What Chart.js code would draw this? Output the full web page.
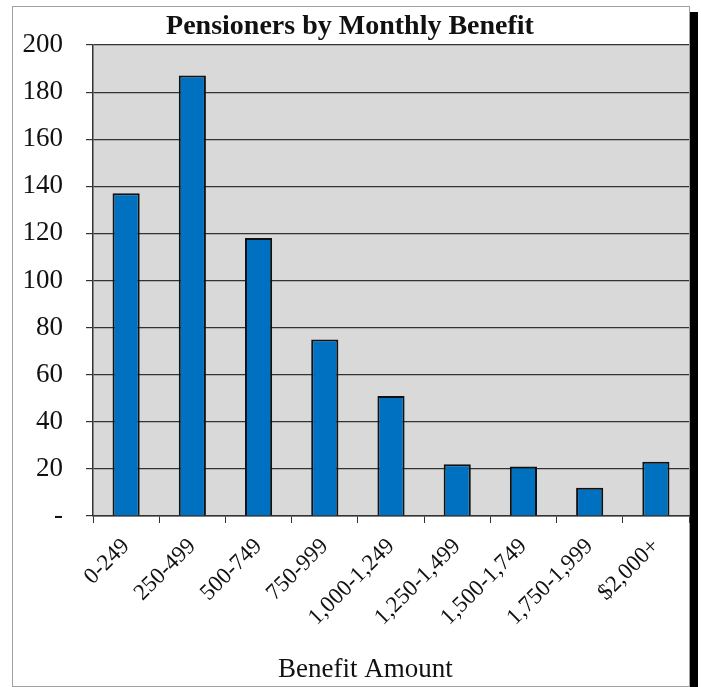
<!DOCTYPE html>
<html>
<head>
<meta charset="utf-8">
<script src="https://cdn.jsdelivr.net/npm/chart.js@4/dist/chart.umd.min.js"></script>
<style>
  html, body { margin: 0; padding: 0; background: #fff; }
  #wrap { position: relative; width: 701px; height: 687px; overflow: hidden; }
  #frame {
    position: absolute; left: 12px; top: 6px; width: 676px; height: 679px;
    border: 1px solid #a0a0a0; box-shadow: 8px 6px 0 #000; background: #fff;
  }
  #chart { position: absolute; left: 0; top: 0; }
</style>
</head>
<body>
<div id="wrap">
  <div id="frame"></div>
  <canvas id="chart" width="701" height="687"></canvas>
</div>
<script>
const categories = ['0-249', '250-499', '500-749', '750-999', '1,000-1,249',
  '1,250-1,499', '1,500-1,749', '1,750-1,999', '$2,000+'];
const pensioners = [137, 187, 118, 75, 51, 22, 21, 12, 23];
const yTicks = [0, 20, 40, 60, 80, 100, 120, 140, 160, 180, 200];
const xTitle = 'Benefit Amount';

const serif = "'Liberation Serif', 'Times New Roman', serif";

// gray plot background
const plotBg = {
  id: 'plotBg',
  beforeDraw(chart) {
    const a = chart.chartArea, ctx = chart.ctx;
    ctx.save();
    ctx.fillStyle = '#d9d9d9';
    ctx.fillRect(a.left, a.top, a.right - a.left, a.bottom - a.top);
    ctx.restore();
  }
};

// x axis title sits a bit left of the plot centre in the original
const axisTitle = {
  id: 'axisTitle',
  afterDraw(chart) {
    const a = chart.chartArea, ctx = chart.ctx;
    ctx.save();
    ctx.fillStyle = '#111';
    ctx.font = '27px ' + serif;
    ctx.textAlign = 'center';
    ctx.textBaseline = 'alphabetic';
    ctx.fillText(xTitle, a.left + (a.right - a.left) * 0.457, chart.height - 10);
    ctx.restore();
  }
};

const ctx = document.getElementById('chart').getContext('2d');
const chart = new Chart(ctx, {
  type: 'bar',
  data: {
    labels: categories,
    datasets: [{
      label: 'Pensioners',
      data: pensioners,
      backgroundColor: '#0070c0',
      borderColor: '#111',
      borderWidth: 2,
      categoryPercentage: 1,
      barPercentage: 0.41
    }]
  },
  options: {
    responsive: false,
    animation: false,
    layout: { padding: { left: 11, right: 12, top: 0, bottom: 0 } },
    plugins: {
      legend: { display: false },
      tooltip: { enabled: false },
      title: {
        display: true,
        text: 'Pensioners by Monthly Benefit',
        color: '#111',
        font: { family: serif, size: 28, weight: 'bold', lineHeight: 1.2 },
        padding: { top: 10, bottom: 1.4 }
      }
    },
    scales: {
      x: {
        afterFit(scale) { scale.height = 171; },
        grid: { drawOnChartArea: false, drawTicks: true, tickLength: 7, color: '#333' },
        border: { display: true, color: '#333', width: 1.5 },
        ticks: {
          color: '#111', autoSkip: false, minRotation: 45, maxRotation: 45, padding: 10,
          font: { family: serif, size: 23 }
        }
      },
      y: {
        min: 0, max: 200,
        afterFit(scale) { scale.width = 82; },
        afterBuildTicks(scale) { scale.ticks = yTicks.map(v => ({ value: v })); },
        grid: { color: '#333', lineWidth: 1.2, tickLength: 7 },
        border: { display: true, color: '#333', width: 1.5 },
        ticks: {
          color: '#111', padding: 23,
          font: { family: serif, size: 27 },
          callback: v => v === 0 ? '-' : v
        }
      }
    }
  },
  plugins: [plotBg, axisTitle]
});
</script>
</body>
</html>
